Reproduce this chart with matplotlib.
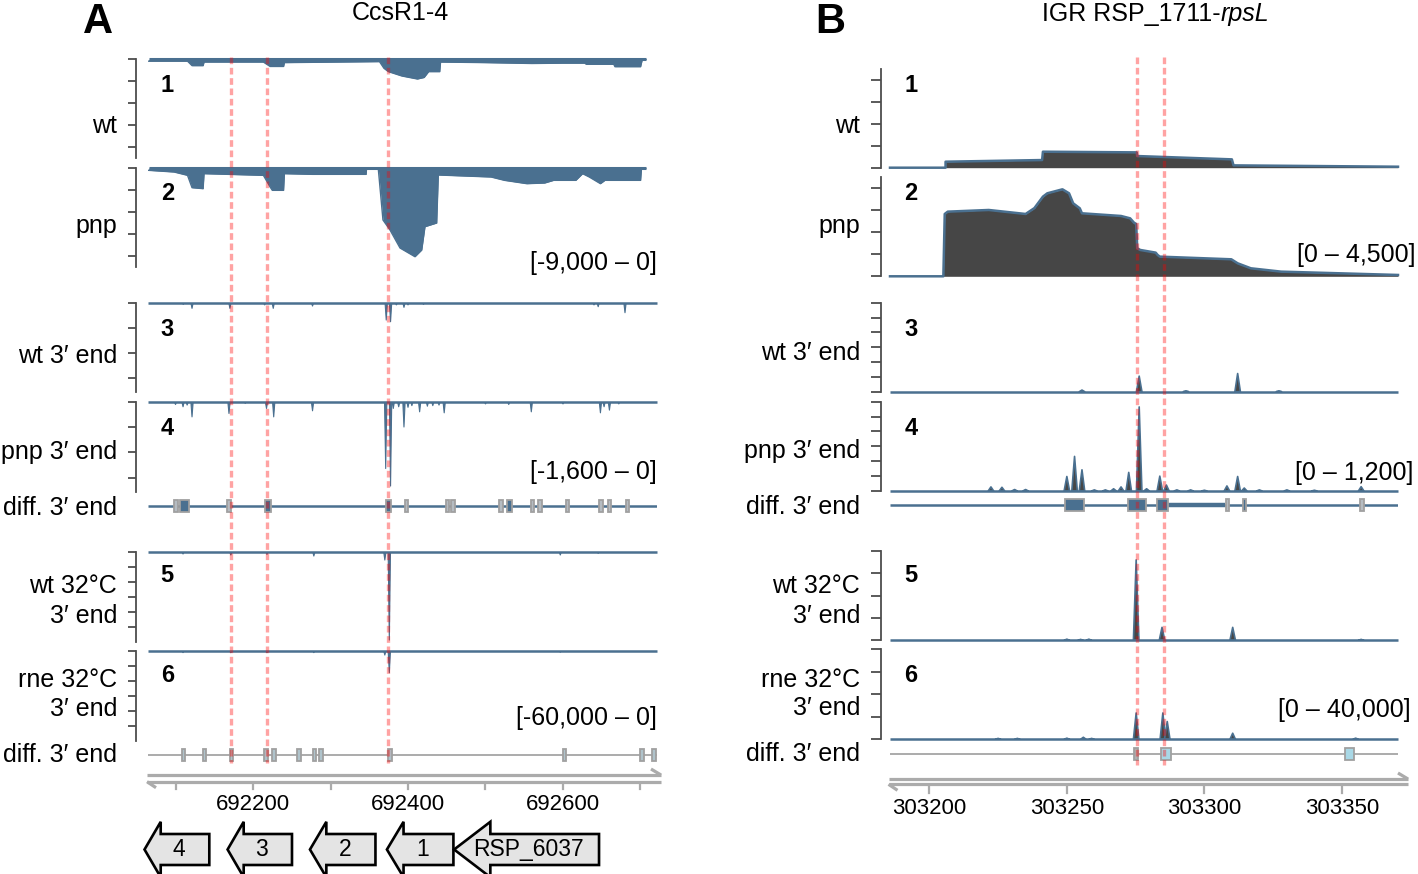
import matplotlib
matplotlib.use('Agg')
import matplotlib.pyplot as plt
from matplotlib.patches import Polygon, Rectangle

plt.rcParams['font.family'] = ['Liberation Sans', 'DejaVu Sans']

# ======================= DATA =======================
# ---- Panel A : CcsR1-4 (minus strand, negative values) ----
A_RANGE = (692064.5, 692721.3)
A_TITLE = 'CcsR1-4'

A1_POS = [692065.4, 692115.5, 692121.3, 692135.6, 692136.8, 692213.4, 692222.1, 692239.4, 692240.5,
          692363.2, 692369.0, 692374.7, 692392.0, 692412.1, 692420.8, 692426.6, 692440.9, 692442.0,
          692500.0, 692560.0, 692600.0, 692628.1, 692630.0, 692665.5, 692667.0, 692700.1, 692702.0, 692707.1]
A1_VAL = [-170, -170, -575, -575, -250, -250, -650, -650, -300,
          -210, -820, -1120, -1515, -1790, -1650, -1120, -1120, -250,
          -300, -380, -350, -350, -450, -450, -670, -670, -100, 0]

A2_POS = [692065.4, 692098.2, 692115.5, 692121.3, 692135.6, 692136.8, 692213.4, 692222.1, 692224.9,
          692239.4, 692240.5, 692276.8, 692345.9, 692346.5, 692361.0, 692361.7, 692367.7, 692376.8,
          692389.7, 692409.0, 692417.7, 692421.9, 692437.0, 692439.1, 692507.2, 692524.5, 692553.3,
          692576.3, 692587.9, 692616.6, 692625.3, 692633.9, 692648.3, 692654.1, 692700.1, 692701.3, 692707.1]
A2_VAL = [-212, -364, -667, -1788, -1879, -515, -667, -1727, -2030,
          -2030, -515, -576, -576, -60, -60, -100, -4727, -5636,
          -7273, -8064, -7455, -5336, -5000, -636, -818, -1121, -1424,
          -1364, -1121, -1121, -515, -818, -1424, -1121, -1121, 0, 0]

A3_POS = [692110.0, 692121.3, 692170.2, 692215.0, 692226.1, 692276.8, 692371.9, 692377.5, 692385.0,
          692394.8, 692400.0, 692420.0, 692640.0, 692645.4, 692680.0]
A3_VAL = [-30, -102, -102, -40, -102, -60, -312, -342, -40,
          -84, -40, -30, -40, -72, -180]

A4_POS = [692100.0, 692109.7, 692115.0, 692121.3, 692169.0, 692190.0, 692217.4, 692226.7, 692276.8,
          692371.2, 692377.5, 692381.0, 692388.0, 692394.8, 692400.0, 692405.0, 692415.0, 692425.0,
          692432.0, 692440.0, 692446.7, 692500.0, 692530.0, 692559.1, 692600.0, 692648.3, 692653.0,
          692659.9, 692672.0]
A4_VAL = [-50, -90, -60, -270, -210, -30, -120, -270, -162,
          -1188, -1500, -120, -90, -450, -100, -70, -180, -80,
          -70, -60, -198, -40, -50, -180, -40, -198, -90,
          -150, -40]

A5_POS = [692109.7, 692171.4, 692218.0, 692278.5, 692370.1, 692375.9, 692596.5, 692645.4]
A5_VAL = [-1550, -2200, -1800, -2900, -5560, -58900, -2200, -1100]

A6_POS = [692109.7, 692171.4, 692218.0, 692278.5, 692370.1, 692375.9, 692596.5]
A6_VAL = [-1300, -1300, -1300, -1300, -2900, -14700, -1000]

A_DIFF1_START = [692099.4, 692106.3, 692168.2, 692215.1, 692371.9, 692396.8, 692449.8, 692456.8,
                 692519.1, 692527.4, 692559.5, 692569.3, 692604.5, 692647.9, 692658.9, 692682.0]
A_DIFF1_END = [692101.4, 692117.8, 692170.2, 692223.2, 692378.7, 692398.8, 692451.8, 692458.8,
               692521.1, 692534.3, 692561.5, 692571.3, 692606.5, 692649.9, 692660.9, 692684.0]
A_DIFF1_SIG = [0, 1, 0, 1, 1, 0, 0, 0, 0, 1, 0, 0, 0, 0, 0, 0]

A_DIFF2_POS = [692110.2, 692137.4, 692172.0, 692217.0, 692226.8, 692259.2, 692279.4, 692287.5,
               692377.0, 692602.2, 692702.0, 692717.7]

A_AXIS_TICKS = [692100, 692200, 692300, 692400, 692500, 692600, 692700]
A_AXIS_LABELS = [692200, 692400, 692600]

GENE_NAMES = ['4', '3', '2', '1', 'RSP_6037']
GENE_START = [692060.0, 692167.2, 692273.5, 692372.8, 692459.5]
GENE_END = [692143.6, 692250.3, 692358.0, 692458.6, 692646.5]

A_MARKS = [692171.6, 692218.0, 692374.0]

# ---- Panel B : IGR RSP_1711-rpsL (plus strand) ----
B_RANGE = (303185.7, 303370.4)

B1_POS = [303185.7, 303205.9, 303205.9, 303241.0, 303241.3, 303275.4, 303275.6, 303310.0, 303310.6, 303370.4]
B1_VAL = [0, 0, 273, 348, 727, 697, 530, 379, 106, 45]

B2_POS = [303185.7, 303205.1, 303205.6, 303206.7, 303221.6, 303235.0, 303238.2, 303241.3, 303242.9,
          303248.4, 303250.8, 303252.3, 303254.7, 303255.5, 303269.7, 303273.0, 303274.4, 303275.2,
          303275.6, 303276.7, 303282.3, 303283.0, 303283.8, 303309.8, 303312.1, 303316.9, 303327.9, 303370.4]
B2_VAL = [0, 0, 2833, 2939, 3015, 2833, 3100, 3621, 3773,
          3954, 3773, 3318, 3091, 2864, 2742, 2636, 2439, 2379,
          1273, 1197, 1076, 970, 894, 773, 591, 364, 212, 61]

B3_POS = [303255.5, 303276.3, 303293.3, 303312.1, 303327.1]
B3_VAL = [22, 210, 10, 245, 10]

B4_POS = [303222.4, 303226.4, 303231.0, 303235.0, 303250.0, 303252.8, 303255.5, 303260.0, 303264.0,
          303267.0, 303269.7, 303272.5, 303276.3, 303279.0, 303283.8, 303286.2, 303290.0, 303295.0,
          303300.0, 303308.2, 303312.1, 303314.5, 303320.0, 303330.0, 303340.0, 303357.0]
B4_VAL = [55, 50, 20, 20, 195, 465, 285, 15, 15,
          30, 55, 250, 1130, 30, 200, 80, 15, 15,
          10, 68, 195, 40, 15, 15, 10, 58]

B5_POS = [303250.0, 303255.0, 303258.0, 303275.2, 303284.6, 303310.3, 303357.0]
B5_VAL = [500, 400, 500, 36000, 5800, 5800, 400]

B6_POS = [303225.0, 303232.0, 303250.0, 303256.0, 303259.0, 303275.2, 303284.9, 303286.5, 303310.3, 303355.0]
B6_VAL = [400, 400, 500, 900, 400, 11700, 11700, 7900, 2700, 500]

B_DIFF1_START = [303249.5, 303272.3, 303282.6, 303308.0, 303314.0, 303356.8]
B_DIFF1_END = [303256.3, 303278.6, 303286.7, 303309.0, 303315.0, 303357.8]
B_DIFF1_SIG = [1, 1, 1, 0, 1, 0]
B_DIFF1_RUN = (303286.7, 303307.4)

B_DIFF2_START = [303274.7, 303284.1, 303351.2]
B_DIFF2_END = [303275.7, 303287.7, 303354.4]
B_DIFF2_SIG = [0, 1, 1]

B_AXIS_TICKS = [303200, 303250, 303300, 303350]
B_AXIS_LABELS = [303200, 303250, 303300, 303350]

B_MARKS = [303275.5, 303285.3]

TRACK_LABELS = ['wt', 'pnp', 'wt 3\u2032 end', 'pnp 3\u2032 end', 'wt 32\u00b0C\n3\u2032 end', 'rne 32\u00b0C\n3\u2032 end']
DIFF_LABEL = 'diff. 3\u2032 end'
A_RANGE_LABELS = ['[-9,000 \u2013 0]', '[-1,600 \u2013 0]', '[-60,000 \u2013 0]']
B_RANGE_LABELS = ['[0 \u2013 4,500]', '[0 \u2013 1,200]', '[0 \u2013 40,000]']

# ======================= STYLE / LAYOUT =======================
W, H = 1418, 874
fig = plt.figure(figsize=(W / 100, H / 100), dpi=100)

BLUE = '#4a7090'
DARK = '#464646'
SPINE = '#4d4d4d'
AXG = '#ababab'
BOXEDGE = '#a0a0a0'
RED = (1.0, 0.0, 0.0, 0.36)
GENEFILL = '#e4e4e4'

A_X0, A_X1 = 148, 657
B_X0, B_X1 = 890, 1398

A_ROWS = [(59.3, 158.3), (168, 267), (302.7, 391.7), (401.7, 491.7), (551.7, 641.7), (650.7, 740.7)]
B_ROWS = [(68.7, 167.7), (177.3, 276.3), (302.7, 391.7), (401.7, 491.0), (551, 640.3), (649.3, 739.3)]
A_YLIM = [(-9000, 0), (-9000, 0), (-1600, 0), (-1600, 0), (-60000, 0), (-60000, 0)]
B_YLIM = [(0, 4500), (0, 4500), (0, 1200), (0, 1200), (0, 40000), (0, 40000)]
A_YTICKS = [[0, -2000, -4000, -6000, -8000]] * 2 + [[0, -450, -900, -1350]] * 2 + \
           [[0, -10000, -20000, -30000, -40000, -50000]] * 2
B_YTICKS = [[0, 1000, 2000, 3000, 4000]] * 2 + [[0, 200, 400, 600, 800, 1000, 1200]] * 2 + \
           [[0, 10000, 20000, 30000, 40000]] * 2

FS = 18


def add_ax(x0, y0, x1, y1):
    return fig.add_axes([x0 / W, 1 - y1 / H, (x1 - x0) / W, (y1 - y0) / H])


def ftext(x, y, s, **kw):
    fig.text(x / W, 1 - y / H, s, **kw)


def track_ax(x0, x1, row, xlim, ylim, yticks, outward, ticklen):
    ax = add_ax(x0, row[0], x1, row[1])
    ax.set_xlim(*xlim)
    ax.set_ylim(*ylim)
    for s in ['top', 'right', 'bottom']:
        ax.spines[s].set_visible(False)
    ax.spines['left'].set_position(('outward', outward * 0.72))
    ax.spines['left'].set_color(SPINE)
    ax.spines['left'].set_linewidth(1.3)
    ax.set_yticks(yticks)
    ax.set_yticklabels([])
    ax.tick_params(axis='y', length=ticklen, width=1.3, color=SPINE)
    ax.set_xticks([])
    ax.patch.set_alpha(0)
    return ax


def spikes(ax, pos, val, hw, face, edge, lw):
    for p, v in zip(pos, val):
        ax.fill([p - hw, p, p + hw], [0, v, 0], facecolor=face, edgecolor=edge, lw=lw,
                joinstyle='round')


# ---------------- Panel A tracks ----------------
axA = [track_ax(A_X0, A_X1, A_ROWS[i], A_RANGE, A_YLIM[i], A_YTICKS[i], 12, 5.8) for i in range(6)]
for ax, pos, val in [(axA[0], A1_POS, A1_VAL), (axA[1], A2_POS, A2_VAL)]:
    ax.fill_between(pos, val, 0, color=BLUE, lw=0)
    ax.plot(pos, val, color=BLUE, lw=1.0)
    ax.plot([pos[0], pos[-1]], [0, 0], color=BLUE, lw=2.2, clip_on=False, solid_capstyle='butt')
for ax, pos, val in [(axA[2], A3_POS, A3_VAL), (axA[3], A4_POS, A4_VAL),
                     (axA[4], A5_POS, A5_VAL), (axA[5], A6_POS, A6_VAL)]:
    spikes(ax, pos, val, 1.5, BLUE, BLUE, 0.8)
    ax.plot(A_RANGE, [0, 0], color=BLUE, lw=1.8, clip_on=False, solid_capstyle='butt')

# ---------------- Panel B tracks ----------------
axB = [track_ax(B_X0, B_X1, B_ROWS[i], B_RANGE, B_YLIM[i], B_YTICKS[i], 9.5, 7.0) for i in range(6)]
for ax, pos, val in [(axB[0], B1_POS, B1_VAL), (axB[1], B2_POS, B2_VAL)]:
    ax.fill_between(pos, val, 0, color=DARK, lw=0)
    ax.plot(pos, val, color=BLUE, lw=1.8, clip_on=False)
for ax, pos, val in [(axB[2], B3_POS, B3_VAL), (axB[3], B4_POS, B4_VAL),
                     (axB[4], B5_POS, B5_VAL), (axB[5], B6_POS, B6_VAL)]:
    spikes(ax, pos, val, 1.0, DARK, BLUE, 1.2)
    ax.plot(B_RANGE, [0, 0], color=BLUE, lw=1.8, clip_on=False, solid_capstyle='butt')


# ---------------- overlays (diff rows, axis, genes, marks) ----------------
def overlay(x0, x1, xlim):
    ov = add_ax(x0, 0, x1, H)
    ov.set_xlim(*xlim)
    ov.set_ylim(H, 0)
    ov.axis('off')
    return ov


def diff_row(ov, y, starts, ends, sig, line_color, line_lw, sig_face, ns_face, nt_per_px):
    ov.plot(ov.get_xlim(), [y, y], color=line_color, lw=line_lw, solid_capstyle='butt', zorder=2)
    minw = 3.5 * nt_per_px
    for s, e, g in zip(starts, ends, sig):
        w = max(e - s, minw)
        c = (s + e) / 2
        ov.add_patch(Rectangle((c - w / 2, y - 6), w, 12, facecolor=sig_face if g else ns_face,
                               edgecolor=BOXEDGE, lw=1.3, zorder=3))


def genome_axis(ov, nt_per_px, xl, xr, y_up, y_lo, ticks, labels, ty0, ty1, ly):
    gl = ov.get_xlim()[0] + (xl) * nt_per_px
    gr = ov.get_xlim()[1] + (xr) * nt_per_px
    kw = dict(color=AXG, lw=2.3, solid_capstyle='butt', clip_on=False, zorder=2)
    ov.plot([gl, gr], [y_up, y_up], **kw)
    ov.plot([gr - 10 * nt_per_px, gr], [y_up - 6, y_up], **kw)
    ov.plot([gl, gr], [y_lo, y_lo], **kw)
    ov.plot([gl, gl + 9 * nt_per_px], [y_lo, y_lo + 6], **kw)
    for t in ticks:
        ov.plot([t, t], [ty0, ty1], color=AXG, lw=1.6, clip_on=False)
    for t in labels:
        ov.text(t, ly, str(t), ha='center', va='baseline', fontsize=16)


ntA = (A_RANGE[1] - A_RANGE[0]) / (A_X1 - A_X0)
ntB = (B_RANGE[1] - B_RANGE[0]) / (B_X1 - B_X0)

ovA = overlay(A_X0, A_X1, A_RANGE)
diff_row(ovA, 506, A_DIFF1_START, A_DIFF1_END, A_DIFF1_SIG, BLUE, 1.8, BLUE, '#b5bcc2', ntA)
diff_row(ovA, 755, [p - 1 for p in A_DIFF2_POS], [p + 1 for p in A_DIFF2_POS],
         [0] * len(A_DIFF2_POS), AXG, 1.4, BLUE, '#afc3cb', ntA)
genome_axis(ovA, ntA, -1, 4, 775, 781.7, A_AXIS_TICKS, A_AXIS_LABELS, 783, 789, 810)

# genes (arrows pointing left)
yc, hb, hh = 849.5, 15.5, 27.7
for name, s, e in zip(GENE_NAMES, GENE_START, GENE_END):
    head = 0.25 * (e - s)
    pts = [(s, yc), (s + head, yc - hh), (s + head, yc - hb), (e, yc - hb), (e, yc + hb),
           (s + head, yc + hb), (s + head, yc + hh)]
    ovA.add_patch(Polygon(pts, closed=True, facecolor=GENEFILL, edgecolor='black', lw=1.9,
                          joinstyle='miter', clip_on=False))
    ovA.text((s + e) / 2 + 2 * ntA, yc, name, ha='center', va='center', fontsize=16.5)

MARK_KW = dict(color=RED, lw=2.4, dashes=(2.0, 1.1), zorder=6, solid_capstyle='butt')
for m in A_MARKS:
    ovA.plot([m, m], [57, 763], **MARK_KW)

ovB = overlay(B_X0, B_X1, B_RANGE)
diff_row(ovB, 505, B_DIFF1_START, B_DIFF1_END, B_DIFF1_SIG, BLUE, 1.8, BLUE, '#b5bcc2', ntB)
ovB.plot(B_DIFF1_RUN, [505, 505], color=BLUE, lw=3.2, solid_capstyle='butt', zorder=2.5)
diff_row(ovB, 754, B_DIFF2_START, B_DIFF2_END, B_DIFF2_SIG, AXG, 1.4, '#a9d8e6', '#b0b0b0', ntB)
genome_axis(ovB, ntB, -1.5, 10, 779, 784.3, B_AXIS_TICKS, B_AXIS_LABELS, 787, 793, 814)

for m in B_MARKS:
    ovB.plot([m, m], [57, 765], **MARK_KW)

# ---------------- texts ----------------
ftext(98, 33.3, 'A', ha='center', va='baseline', fontsize=30, fontweight='bold')
ftext(830, 33.3, 'B', ha='center', va='baseline', fontsize=30, fontweight='bold')
ftext(400, 20, A_TITLE, ha='center', va='baseline', fontsize=FS)
ftext(1220.5, 20.7, 'IGR RSP_1711-', ha='right', va='baseline', fontsize=FS)
ftext(1220.5, 20.7, 'rpsL', ha='left', va='baseline', fontsize=FS, fontstyle='italic')

A_LABEL_BASE = [[133.3], [233.3], [362.7], [459.3], [593.3, 622.7], [687.3, 716]]
B_LABEL_BASE = [[133.3], [233.3], [360], [458.3], [593.3, 622.7], [686.7, 715]]
for lab, ya, yb in zip(TRACK_LABELS, A_LABEL_BASE, B_LABEL_BASE):
    for line, y1, y2 in zip(lab.split('\n'), ya, yb):
        ftext(117, y1, line, ha='right', va='baseline', fontsize=FS)
        ftext(860, y2, line, ha='right', va='baseline', fontsize=FS)
for y1, y2 in [(515.3, 514), (761.7, 761)]:
    ftext(117, y1, DIFF_LABEL, ha='right', va='baseline', fontsize=FS)
    ftext(860, y2, DIFF_LABEL, ha='right', va='baseline', fontsize=FS)

NUM_BASE = [91.7, 200, 336, 435, 581.7, 681.7]
for i, y in enumerate(NUM_BASE):
    ftext(160.7, y, str(i + 1), ha='left', va='baseline', fontsize=17, fontweight='bold')
    ftext(904.5, y, str(i + 1), ha='left', va='baseline', fontsize=17, fontweight='bold')

for lab, y in zip(A_RANGE_LABELS, [270, 479.3, 725]):
    ftext(657, y, lab, ha='right', va='baseline', fontsize=FS)
for lab, x, y in zip(B_RANGE_LABELS, [1415.3, 1413, 1411], [261.7, 480, 716.7]):
    ftext(x, y, lab, ha='right', va='baseline', fontsize=FS)

fig.savefig('out.png', dpi=100)
